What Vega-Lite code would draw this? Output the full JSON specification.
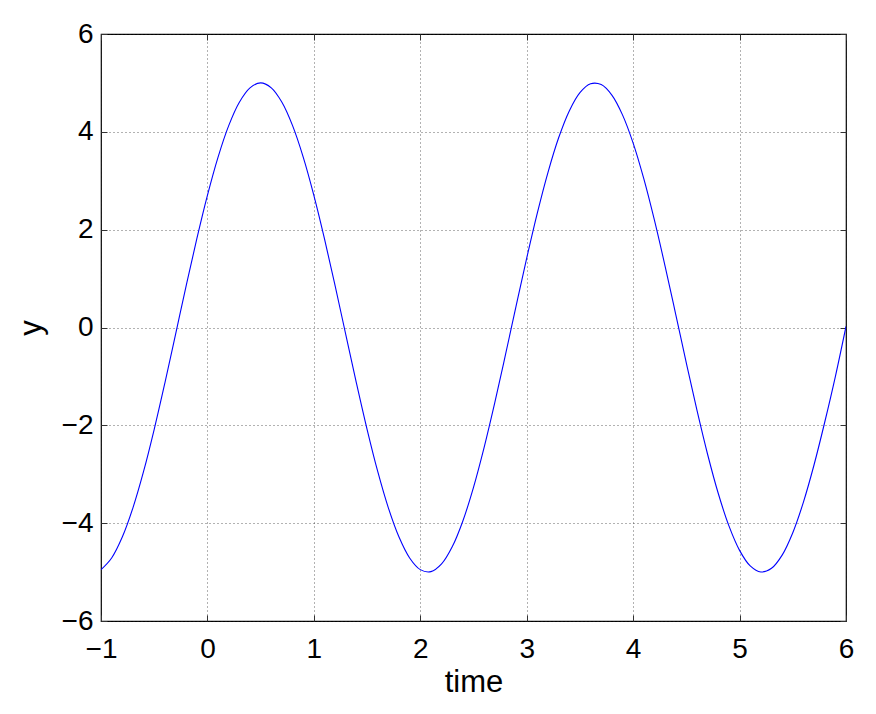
{
  "$schema": "https://vega.github.io/schema/vega-lite/v6.json",
  "width": 745,
  "height": 587,
  "autosize": {"type": "none"},
  "padding": {"left": 101, "top": 34, "right": 30, "bottom": 93},
  "background": "white",
  "config": {
    "view": {"stroke": "black", "strokeWidth": 1.2},
    "font": "Liberation Sans",
    "axis": {
      "labelFont": "Liberation Sans",
      "titleFont": "Liberation Sans",
      "labelFontSize": 28,
      "titleFontSize": 31,
      "titleFontWeight": "normal",
      "labelColor": "black",
      "titleColor": "black",
      "labelFlush": false,
      "labelOverlap": false,
      "labelBound": false,
      "domain": false,
      "ticks": true,
      "tickSize": -6,
      "tickColor": "#333",
      "tickWidth": 1,
      "grid": true,
      "gridColor": "#222",
      "gridOpacity": 0.7,
      "gridDash": [1, 3],
      "gridWidth": 1
    }
  },
  "data": {
    "values": [
      {"t": -1.0, "y": -4.950}, {"t": -0.9, "y": -4.711}, {"t": -0.8, "y": -4.284}, {"t": -0.7, "y": -3.687},
      {"t": -0.6, "y": -2.943}, {"t": -0.5, "y": -2.081}, {"t": -0.4, "y": -1.136}, {"t": -0.3, "y": -0.146},
      {"t": -0.2, "y": 0.850}, {"t": -0.1, "y": 1.812}, {"t": 0.0, "y": 2.702}, {"t": 0.1, "y": 3.484},
      {"t": 0.2, "y": 4.127}, {"t": 0.3, "y": 4.605}, {"t": 0.4, "y": 4.900}, {"t": 0.5, "y": 5.000},
      {"t": 0.6, "y": 4.900}, {"t": 0.7, "y": 4.605}, {"t": 0.8, "y": 4.127}, {"t": 0.9, "y": 3.484},
      {"t": 1.0, "y": 2.702}, {"t": 1.1, "y": 1.812}, {"t": 1.2, "y": 0.850}, {"t": 1.3, "y": -0.146},
      {"t": 1.4, "y": -1.136}, {"t": 1.5, "y": -2.081}, {"t": 1.6, "y": -2.943}, {"t": 1.7, "y": -3.687},
      {"t": 1.8, "y": -4.284}, {"t": 1.9, "y": -4.711}, {"t": 2.0, "y": -4.950}, {"t": 2.1, "y": -4.991},
      {"t": 2.2, "y": -4.834}, {"t": 2.3, "y": -4.484}, {"t": 2.4, "y": -3.955}, {"t": 2.5, "y": -3.268},
      {"t": 2.6, "y": -2.451}, {"t": 2.7, "y": -1.537}, {"t": 2.8, "y": -0.561}, {"t": 2.9, "y": 0.437},
      {"t": 3.0, "y": 1.418}, {"t": 3.1, "y": 2.343}, {"t": 3.2, "y": 3.173}, {"t": 3.3, "y": 3.878},
      {"t": 3.4, "y": 4.428}, {"t": 3.5, "y": 4.801}, {"t": 3.6, "y": 4.983}, {"t": 3.7, "y": 4.966},
      {"t": 3.8, "y": 4.751}, {"t": 3.9, "y": 4.347}, {"t": 4.0, "y": 3.770}, {"t": 4.1, "y": 3.042},
      {"t": 4.2, "y": 2.193}, {"t": 4.3, "y": 1.256}, {"t": 4.4, "y": 0.270}, {"t": 4.5, "y": -0.728},
      {"t": 4.6, "y": -1.696}, {"t": 4.7, "y": -2.596}, {"t": 4.8, "y": -3.394}, {"t": 4.9, "y": -4.056},
      {"t": 5.0, "y": -4.556}, {"t": 5.1, "y": -4.874}, {"t": 5.2, "y": -4.998}, {"t": 5.3, "y": -4.923},
      {"t": 5.4, "y": -4.653}, {"t": 5.5, "y": -4.195}, {"t": 5.6, "y": -3.570}, {"t": 5.7, "y": -2.806},
      {"t": 5.8, "y": -1.937}, {"t": 5.9, "y": -1.003}, {"t": 6.0, "y": 0.022}
    ]
  },
  "layer": [
    {
      "mark": {"type": "line", "color": "#0000ff", "strokeWidth": 1.1, "interpolate": "catmull-rom", "clip": true},
      "encoding": {
        "x": {
          "field": "t", "type": "quantitative",
          "scale": {"domain": [-1, 6], "nice": false, "zero": false},
          "axis": {"values": [-1, 0, 1, 2, 3, 4, 5, 6], "title": "time", "labelPadding": 20, "titlePadding": 4, "format": "d"}
        },
        "y": {
          "field": "y", "type": "quantitative",
          "scale": {"domain": [-6, 6], "nice": false, "zero": false},
          "axis": {"values": [-6, -4, -2, 0, 2, 4, 6], "title": "y", "labelPadding": 14, "titlePadding": 14, "format": "d"}
        }
      }
    },
    {
      "mark": {"type": "line", "opacity": 0},
      "encoding": {
        "x": {
          "field": "t", "type": "quantitative",
          "scale": {"domain": [-1, 6], "nice": false, "zero": false},
          "axis": {"orient": "top", "values": [-1, 0, 1, 2, 3, 4, 5, 6], "labels": false, "title": null, "grid": false}
        },
        "y": {
          "field": "y", "type": "quantitative",
          "scale": {"domain": [-6, 6], "nice": false, "zero": false},
          "axis": {"orient": "right", "values": [-6, -4, -2, 0, 2, 4, 6], "labels": false, "title": null, "grid": false}
        }
      }
    }
  ],
  "resolve": {"axis": {"x": "independent", "y": "independent"}}
}
